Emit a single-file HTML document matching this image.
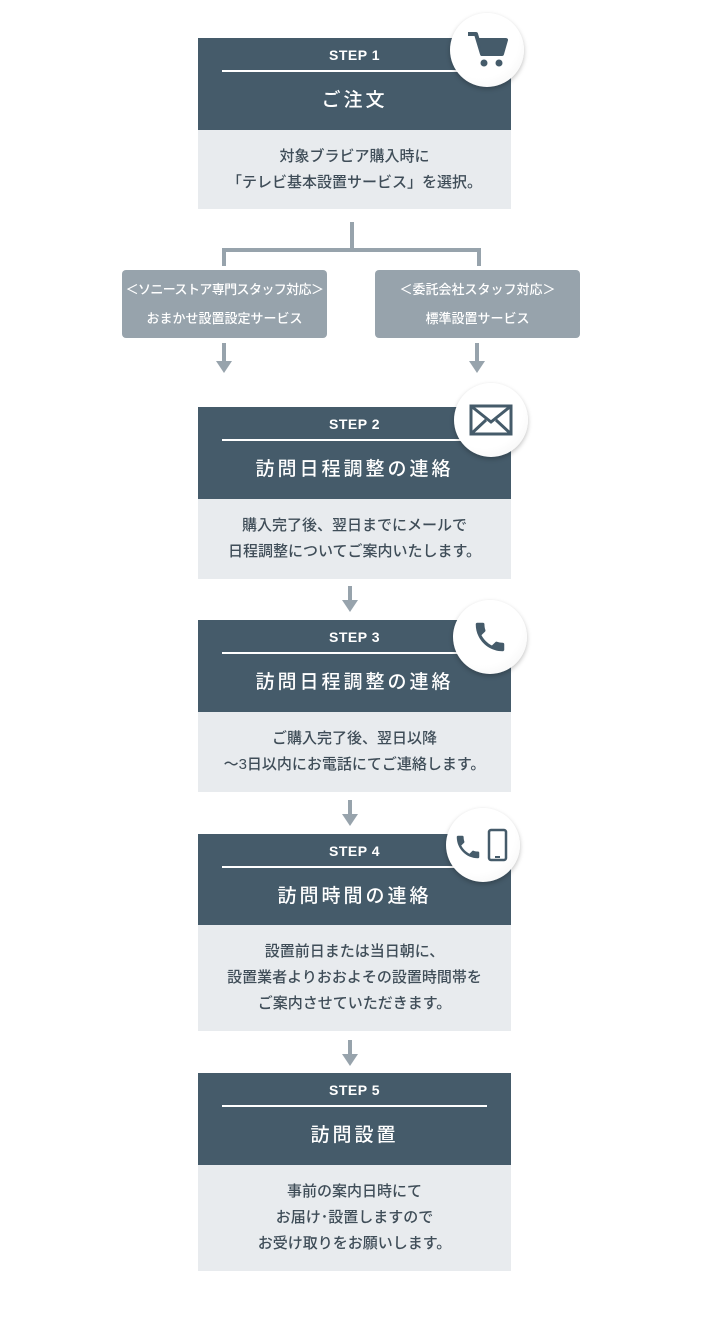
<!DOCTYPE html>
<html><head><meta charset="utf-8"><style>
*{margin:0;padding:0;box-sizing:border-box}
body{width:712px;height:1330px;background:#fff;position:relative;font-family:"Liberation Sans","Noto Sans CJK JP",sans-serif;overflow:hidden}
.h{position:absolute;left:198px;width:313px;background:#455b6a;color:#fff;text-align:center}
.h .s{position:absolute;top:9px;left:0;right:0;font-weight:bold;font-size:14px;letter-spacing:0.5px}
.h .l{position:absolute;top:32px;left:24px;right:24px;height:1.5px;background:#fff}
.h .t{position:absolute;top:47px;left:0;right:0;font-size:19px;letter-spacing:3px;font-weight:500}
.d{position:absolute;left:198px;width:313px;background:#e8ebee;color:#3f4d58;text-align:center;font-size:15px;line-height:26px;font-weight:500}
.c{position:absolute;width:74px;height:74px;border-radius:50%;background:radial-gradient(circle at 40% 35%,#fff 60%,#f0f0f0);box-shadow:0 2px 5px rgba(0,0,0,.25);display:flex;align-items:center;justify-content:center}
.g{position:absolute;background:#97a3ac;color:#fff;border-radius:4px;text-align:center;font-size:13px;line-height:29px;padding-top:5px;font-weight:500;white-space:nowrap}
.ln{position:absolute;background:#97a3ac}
.ar{position:absolute;width:0;height:0;border-left:8px solid transparent;border-right:8px solid transparent;border-top:12px solid #97a3ac}
</style></head><body>

<div class="h" style="top:38px;height:92px"><div class="s">STEP 1</div><div class="l"></div><div class="t">ご注文</div></div>
<div class="d" style="top:130px;height:79px;padding-top:14px">対象ブラビア購入時に<br>「テレビ基本設置サービス」を選択。</div>
<div class="c" style="left:450px;top:13px"><svg width="42" height="40" viewBox="0 0 42 40"><path d="M2 4h8l6 20h20l4-14H12" fill="none" stroke="#455b6a" stroke-width="4" stroke-linejoin="round"/><path d="M13 10h27l-4 14H16z" fill="#455b6a"/><circle cx="18" cy="33" r="3.5" fill="#455b6a"/><circle cx="33" cy="33" r="3.5" fill="#455b6a"/></svg></div>

<div class="ln" style="left:350px;top:222px;width:4px;height:28px"></div>
<div class="ln" style="left:222px;top:248px;width:259px;height:4px"></div>
<div class="ln" style="left:222px;top:248px;width:4px;height:18px"></div>
<div class="ln" style="left:477px;top:248px;width:4px;height:18px"></div>
<div class="g" style="left:122px;top:270px;width:205px;height:68px;letter-spacing:-0.6px">＜ソニーストア専門スタッフ対応＞<br><span style="letter-spacing:0">おまかせ設置設定サービス</span></div>
<div class="g" style="left:375px;top:270px;width:205px;height:68px">＜委託会社スタッフ対応＞<br>標準設置サービス</div>
<div class="ln" style="left:222px;top:343px;width:4px;height:20px"></div><div class="ar" style="left:216px;top:361px"></div>
<div class="ln" style="left:475px;top:343px;width:4px;height:20px"></div><div class="ar" style="left:469px;top:361px"></div>

<div class="h" style="top:407px;height:92px"><div class="s">STEP 2</div><div class="l"></div><div class="t">訪問日程調整の連絡</div></div>
<div class="d" style="top:499px;height:80px;padding-top:14px">購入完了後、翌日までにメールで<br>日程調整についてご案内いたします。</div>
<div class="c" style="left:454px;top:383px"><svg width="44" height="32" viewBox="0 0 44 32"><rect x="2" y="2" width="40" height="28" fill="none" stroke="#455b6a" stroke-width="3"/><path d="M2 2l20 16 20-16M2 30l15-14M42 30l-15-14" fill="none" stroke="#455b6a" stroke-width="3"/></svg></div>

<div class="ln" style="left:348px;top:586px;width:4px;height:16px"></div><div class="ar" style="left:342px;top:600px"></div>

<div class="h" style="top:620px;height:92px"><div class="s">STEP 3</div><div class="l"></div><div class="t">訪問日程調整の連絡</div></div>
<div class="d" style="top:712px;height:80px;padding-top:14px">ご購入完了後、翌日以降<br>〜3日以内にお電話にてご連絡します。</div>
<div class="c" style="left:453px;top:600px"><svg width="38" height="38" viewBox="0 0 24 24"><path d="M6.6 10.8c1.4 2.8 3.8 5.1 6.6 6.6l2.2-2.2c.3-.3.7-.4 1-.2 1.1.4 2.3.6 3.6.6.6 0 1 .4 1 1V20c0 .6-.4 1-1 1C10.6 21 3 13.4 3 4c0-.6.4-1 1-1h3.5c.6 0 1 .4 1 1 0 1.3.2 2.5.6 3.6.1.3 0 .7-.2 1z" fill="#455b6a"/></svg></div>

<div class="ln" style="left:348px;top:800px;width:4px;height:16px"></div><div class="ar" style="left:342px;top:814px"></div>

<div class="h" style="top:834px;height:91px"><div class="s">STEP 4</div><div class="l"></div><div class="t">訪問時間の連絡</div></div>
<div class="d" style="top:925px;height:106px;padding-top:14px">設置前日または当日朝に、<br>設置業者よりおおよその設置時間帯を<br>ご案内させていただきます。</div>
<div class="c" style="left:446px;top:808px"><svg width="56" height="34" viewBox="0 0 56 34"><g transform="translate(-2,4) scale(1.25)"><path d="M6.6 10.8c1.4 2.8 3.8 5.1 6.6 6.6l2.2-2.2c.3-.3.7-.4 1-.2 1.1.4 2.3.6 3.6.6.6 0 1 .4 1 1V20c0 .6-.4 1-1 1C10.6 21 3 13.4 3 4c0-.6.4-1 1-1h3.5c.6 0 1 .4 1 1 0 1.3.2 2.5.6 3.6.1.3 0 .7-.2 1z" fill="#455b6a"/></g><rect x="34" y="2" width="17" height="30" rx="2" fill="none" stroke="#455b6a" stroke-width="2.5"/><rect x="40" y="28" width="5" height="2" fill="#455b6a"/></svg></div>

<div class="ln" style="left:348px;top:1040px;width:4px;height:16px"></div><div class="ar" style="left:342px;top:1054px"></div>

<div class="h" style="top:1073px;height:92px"><div class="s">STEP 5</div><div class="l"></div><div class="t">訪問設置</div></div>
<div class="d" style="top:1165px;height:106px;padding-top:14px">事前の案内日時にて<br>お届け･設置しますので<br>お受け取りをお願いします。</div>
</body></html>
